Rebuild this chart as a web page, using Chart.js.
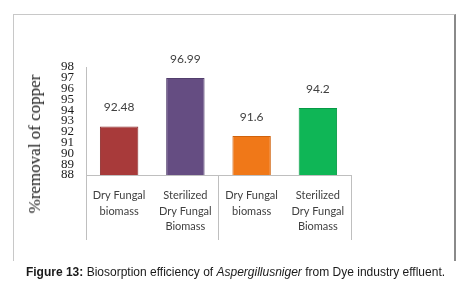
<!DOCTYPE html>
<html>
<head>
<meta charset="utf-8">
<script src="https://cdn.jsdelivr.net/npm/chart.js@4/dist/chart.umd.min.js"></script>
<style>
  body { margin: 0; background: #fff; }
  #wrap { position: relative; width: 471px; height: 292px; overflow: hidden; }
  #frame { position: absolute; left: 13px; top: 14px; width: 440px; height: 246px;
           border-left: 1px solid #c8c8c8; border-top: 1px solid #c8c8c8; border-right: 2px solid #8a8a8a; }
  #chart { position: absolute; left: 0; top: 0; }
  #ytitle { position: absolute; left: 35px; top: 144px; transform: translate(-50%, -50%) rotate(-90deg);
            font: 17px "Liberation Serif", serif; color: #1a1a1a; white-space: nowrap; }
  #caption { position: absolute; left: 0; width: 471px; top: 265px; text-align: center;
             font: 12px "Liberation Sans", Arial, sans-serif; color: #1a1a1a; white-space: nowrap; }
</style>
</head>
<body>
<div id="wrap">
  <div id="frame"></div>
  <canvas id="chart" width="471" height="292"></canvas>
  <div id="ytitle">%removal of copper</div>
  <div id="caption"><b>Figure 13:</b> Biosorption efficiency of <i>Aspergillusniger</i> from Dye industry effluent.</div>
</div>
<script>
// 데이터
const categories = [
    ['Dry Fungal', 'biomass'],
    ['Sterilized', 'Dry Fungal', 'Biomass'],
    ['Dry Fungal', 'biomass'],
    ['Sterilized', 'Dry Fungal', 'Biomass']
];
const values = [92.48, 96.99, 91.6, 94.2];
const valueLabels = ['92.48', '96.99', '91.6', '94.2'];
const barColors = ['#a83a3a', '#654d82', '#f07818', '#0fb656'];
const barEdges = ['#8e3030', '#523e6c', '#d0620c', '#069a45'];
const yMin = 88, yMax = 98;

// 막대 위 값 표시
const valueLabelPlugin = {
    id: 'valueLabels',
    afterDatasetsDraw(chart) {
        const { ctx } = chart;
        const meta = chart.getDatasetMeta(0);
        ctx.save();
        ctx.font = '12px Lato, "Open Sans", sans-serif';
        ctx.fillStyle = '#404040';
        ctx.textAlign = 'center';
        ctx.textBaseline = 'middle';
        meta.data.forEach((bar, i) => {
            ctx.fillText(valueLabels[i], bar.x, bar.y - 19);
        });
        ctx.restore();
    }
};

new Chart(document.getElementById('chart'), {
    type: 'bar',
    data: {
        labels: categories,
        datasets: [{
            data: values,
            backgroundColor: barColors,
            borderColor: barEdges,
            borderWidth: 1,
            barPercentage: 0.58,
            categoryPercentage: 1
        }]
    },
    options: {
        responsive: false,
        animation: false,
        layout: { padding: { left: 0, right: 120, top: 67, bottom: 52 } },
        plugins: { legend: { display: false }, tooltip: { enabled: false } },
        scales: {
            x: {
                afterFit: s => { s.height = 65; },
                border: { display: true, color: '#bfbfbf' },
                grid: {
                    offset: true,
                    drawOnChartArea: false,
                    tickLength: 65,
                    color: c => (c.index === undefined || c.index % 2 === 0) ? '#bfbfbf' : 'rgba(0,0,0,0)'
                },
                ticks: {
                    padding: -52,
                    maxRotation: 0,
                    autoSkip: false,
                    color: '#404040',
                    font: { family: 'Lato, "Open Sans", sans-serif', size: 11, lineHeight: 1.4 }
                }
            },
            y: {
                min: yMin,
                max: yMax,
                afterFit: s => { s.width = 86; },
                border: { display: true, color: '#bfbfbf' },
                grid: { drawOnChartArea: false, drawTicks: false },
                ticks: {
                    stepSize: 1,
                    autoSkip: false,
                    padding: 12,
                    color: '#1a1a1a',
                    font: { family: '"Liberation Serif", serif', size: 13, lineHeight: 1 }
                }
            }
        }
    },
    plugins: [valueLabelPlugin]
});
</script>
</body>
</html>
